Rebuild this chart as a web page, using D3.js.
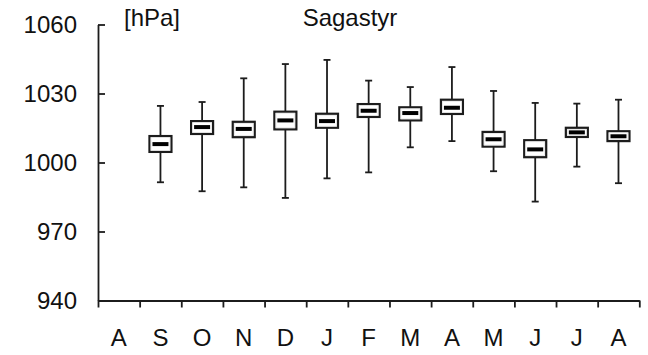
<!DOCTYPE html>
<html>
<head>
<meta charset="utf-8">
<script src="https://cdn.jsdelivr.net/npm/d3@7"></script>
<style>
  html, body { margin: 0; padding: 0; background: #fff; }
  svg { display: block; }
  text { font-family: Arial, "Liberation Sans", sans-serif; fill: #111; }
</style>
</head>
<body>
<svg id="chart" width="648" height="355"></svg>
<script>
// Monthly sea-level pressure distribution, Sagastyr (Aug to Aug)
const months = ["A", "S", "O", "N", "D", "J", "F", "M", "A", "M", "J", "J", "A"];
// null = no data for that month
const whiskerLow  = [null, 991.4, 987.5, 989.2, 984.6, 993.1, 995.7, 1006.6, 1009.3, 996.2, 983.0, 998.2, 991.0];
const q1          = [null, 1004.6, 1012.4, 1011.0, 1014.4, 1015.1, 1019.8, 1018.3, 1021.1, 1006.9, 1002.3, 1011.1, 1009.3];
const medians     = [null, 1008.0, 1015.4, 1014.6, 1018.3, 1018.0, 1022.5, 1021.5, 1023.8, 1010.1, 1005.7, 1013.1, 1011.4];
const q3          = [null, 1011.5, 1018.0, 1017.7, 1022.1, 1021.2, 1025.4, 1024.0, 1027.3, 1013.3, 1009.7, 1015.1, 1013.6];
const whiskerHigh = [null, 1024.6, 1026.3, 1036.6, 1042.8, 1044.6, 1035.6, 1032.8, 1041.5, 1031.1, 1025.9, 1025.6, 1027.3];
const yTicks = [940, 970, 1000, 1030, 1060];
const unitLabel = "[hPa]";
const stationName = "Sagastyr";

const svg = d3.select("#chart");
const plotLeft = 98, plotRight = 639.3, plotTop = 24.5, plotBottom = 300.5;

const x = d3.scaleLinear().domain([0, months.length]).range([plotLeft, plotRight]);
const y = d3.scaleLinear().domain([940, 1060]).range([plotBottom, plotTop]);

const ink = "#1c1c1c";

// Y axis, ticks pointing inward
const yAxis = svg.append("g")
  .attr("transform", `translate(${plotLeft},0)`)
  .call(d3.axisLeft(y).tickValues(yTicks).tickSizeInner(-7).tickSizeOuter(0).tickPadding(21).tickFormat(d3.format("d")));
yAxis.selectAll("path, line").attr("stroke", ink).attr("stroke-width", 1.8);
yAxis.selectAll("text").attr("font-size", 24).attr("fill", "#111").attr("dy", "0.34em");

// X axis, ticks at month boundaries
const xAxis = svg.append("g")
  .attr("transform", `translate(0,${plotBottom})`)
  .call(d3.axisBottom(x).tickValues(d3.range(months.length + 1)).tickSize(7).tickSizeOuter(0).tickFormat(""));
xAxis.selectAll("path, line").attr("stroke", ink).attr("stroke-width", 1.8);

// Month letters centred between ticks
svg.append("g").selectAll("text")
  .data(months)
  .join("text")
  .attr("x", (d, i) => x(i + 0.5))
  .attr("y", 346)
  .attr("text-anchor", "middle")
  .attr("font-size", 24)
  .text(d => d);

// Header texts
svg.append("text").attr("x", 124).attr("y", 26).attr("font-size", 24).text(unitLabel);
svg.append("text").attr("x", 350).attr("y", 26).attr("font-size", 24).attr("text-anchor", "middle").text(stationName);

// Box plots
const boxW = 24, capW = 7, medW = 16;
const rows = months.map((m, i) => ({
  i, lo: whiskerLow[i], q1: q1[i], med: medians[i], q3: q3[i], hi: whiskerHigh[i]
})).filter(d => d.med !== null);

const g = svg.append("g").selectAll("g").data(rows).join("g")
  .attr("transform", d => `translate(${x(d.i + 0.5)},0)`);

g.append("line")
  .attr("x1", 0).attr("x2", 0)
  .attr("y1", d => y(d.hi)).attr("y2", d => y(d.lo))
  .attr("stroke", ink).attr("stroke-width", 1.8);
g.append("line")
  .attr("x1", -capW / 2).attr("x2", capW / 2)
  .attr("y1", d => y(d.hi)).attr("y2", d => y(d.hi))
  .attr("stroke", ink).attr("stroke-width", 1.8);
g.append("line")
  .attr("x1", -capW / 2).attr("x2", capW / 2)
  .attr("y1", d => y(d.lo)).attr("y2", d => y(d.lo))
  .attr("stroke", ink).attr("stroke-width", 1.8);
g.append("rect")
  .attr("x", -boxW / 2 + 1).attr("width", boxW - 2)
  .attr("y", d => y(d.q3)).attr("height", d => y(d.q1) - y(d.q3))
  .attr("fill", "#fff").attr("stroke", ink).attr("stroke-width", 2.2);
g.append("rect")
  .attr("x", -boxW / 2 + 2.6).attr("width", boxW - 5.2)
  .attr("y", d => y(d.q3) + 1.6).attr("height", d => Math.max(0, y(d.q1) - y(d.q3) - 3.2))
  .attr("fill", "none").attr("stroke", "#e2e2e2").attr("stroke-width", 0.7);
g.append("line")
  .attr("x1", -medW / 2).attr("x2", medW / 2)
  .attr("y1", d => y(d.med)).attr("y2", d => y(d.med))
  .attr("stroke", "#000").attr("stroke-width", 4);
</script>
</body>
</html>
